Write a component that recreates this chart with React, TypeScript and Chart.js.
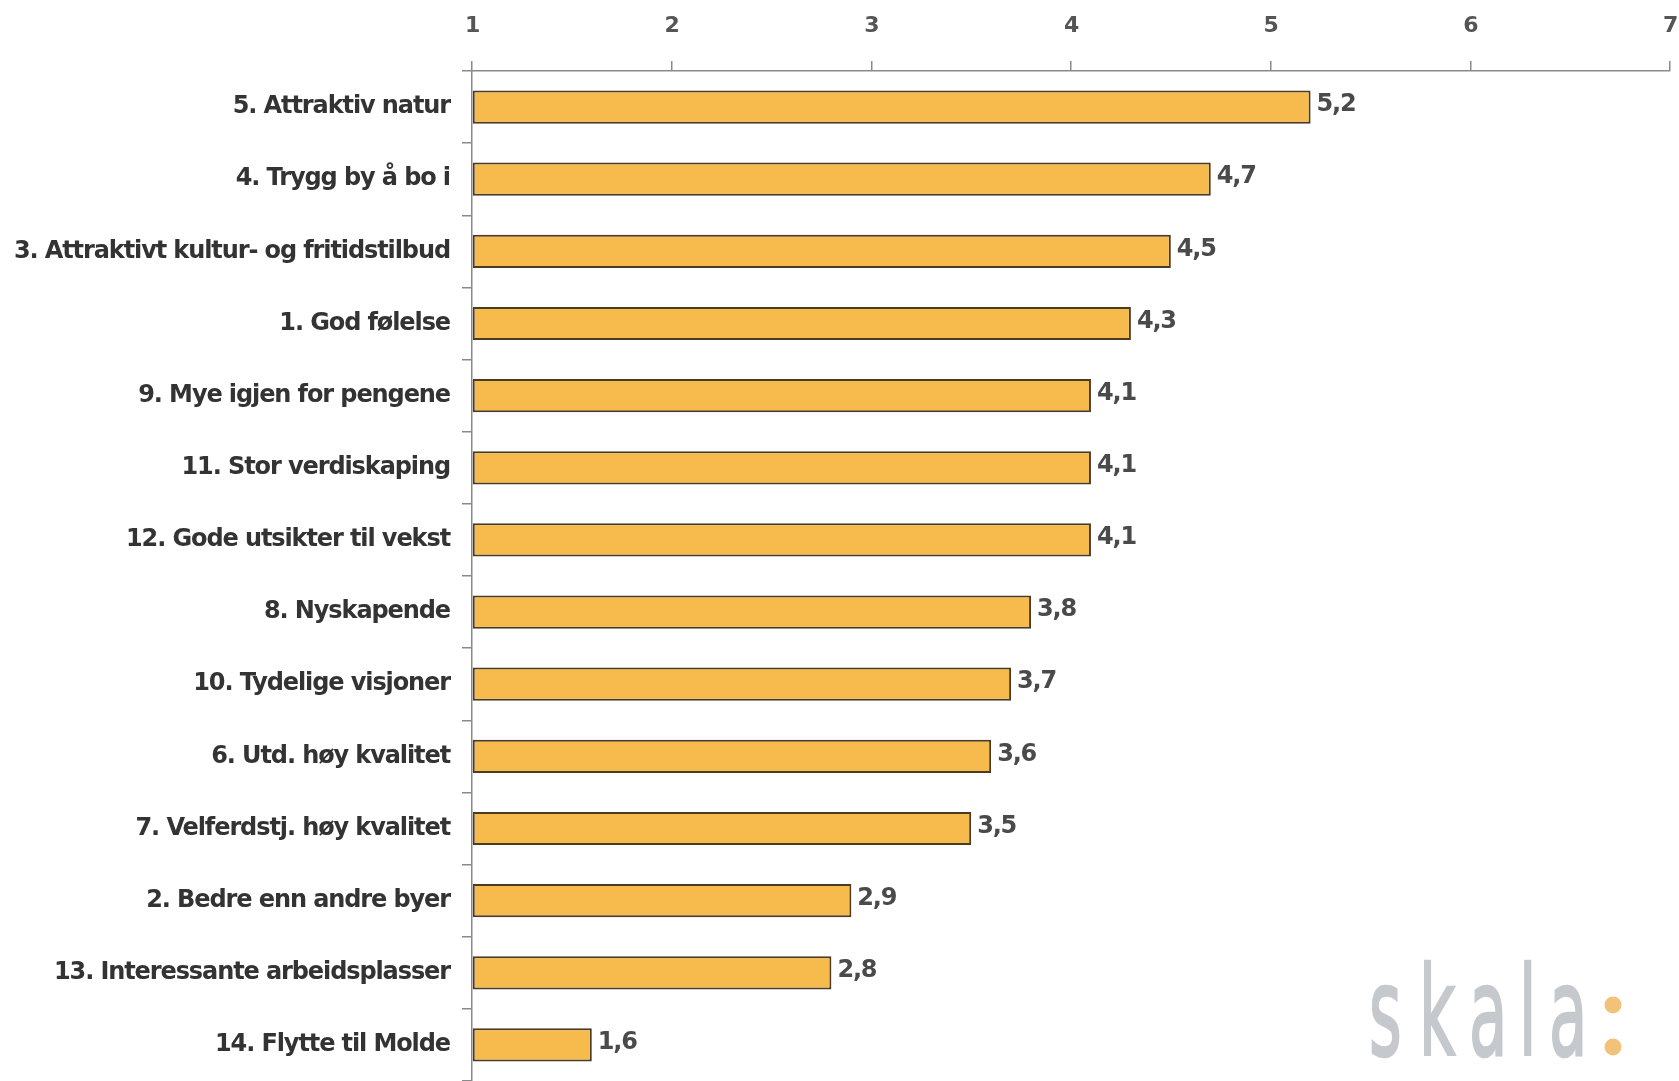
import React, { useEffect, useRef } from "react";
import { Chart, registerables } from "chart.js";

Chart.register(...registerables);

const categories = [
  "5. Attraktiv natur",
  "4. Trygg by å bo i",
  "3. Attraktivt kultur- og fritidstilbud",
  "1. God følelse",
  "9. Mye igjen for pengene",
  "11. Stor verdiskaping",
  "12. Gode utsikter til vekst",
  "8. Nyskapende",
  "10. Tydelige visjoner",
  "6. Utd. høy kvalitet",
  "7. Velferdstj. høy kvalitet",
  "2. Bedre enn andre byer",
  "13. Interessante arbeidsplasser",
  "14. Flytte til Molde",
];
const values = [5.2, 4.7, 4.5, 4.3, 4.1, 4.1, 4.1, 3.8, 3.7, 3.6, 3.5, 2.9, 2.8, 1.6];
const axisMin = 1;
const axisMax = 7;
const logoText = "skala";

const W = 1679;
const H = 1081;
const FONT = '"DejaVu Sans", "Liberation Sans", Arial, sans-serif';

const spacingPlugin = {
  id: "spacing",
  beforeDraw(chart: any) {
    (chart.ctx as any).letterSpacing = "-1.1px";
  },
};

const valueLabelPlugin = {
  id: "valueLabels",
  afterDatasetsDraw(chart: any) {
    const ctx = chart.ctx;
    const meta = chart.getDatasetMeta(0);
    ctx.save();
    (ctx as any).letterSpacing = "-1.2px";
    ctx.font = `bold 24px ${FONT}`;
    ctx.fillStyle = "#4a4a4a";
    ctx.textAlign = "left";
    ctx.textBaseline = "middle";
    meta.data.forEach((bar: any, i: number) => {
      const txt = values[i].toFixed(1).replace(".", ",");
      ctx.fillText(txt, bar.x + 6, bar.y - 2);
    });
    ctx.restore();
  },
};

const logoOffsets = [0, 50, 100, 150, 180];

const logoPlugin = {
  id: "logo",
  afterDraw(chart: any) {
    const ctx = chart.ctx;
    ctx.save();
    (ctx as any).letterSpacing = "0px";
    ctx.fillStyle = "#c5c9cd";
    ctx.strokeStyle = "#c5c9cd";
    ctx.lineWidth = 2.5;
    ctx.textBaseline = "alphabetic";
    ctx.textAlign = "left";
    const baseX = 1369;
    const baseY = 1055;
    for (let i = 0; i < logoText.length; i++) {
      ctx.save();
      ctx.translate(baseX + logoOffsets[i], baseY);
      ctx.scale(0.56, 1.1);
      ctx.font = `normal 112px ${FONT}`;
      ctx.fillText(logoText[i], 0, 0);
      ctx.strokeText(logoText[i], 0, 0);
      ctx.restore();
    }
    ctx.fillStyle = "#f3c27a";
    const cx = 1613;
    ctx.beginPath();
    ctx.arc(cx, 1005, 8.5, 0, Math.PI * 2);
    ctx.fill();
    ctx.beginPath();
    ctx.arc(cx, 1047, 8.5, 0, Math.PI * 2);
    ctx.fill();
    ctx.restore();
  },
};

export default function App() {
  const ref = useRef<HTMLCanvasElement>(null);
  useEffect(() => {
    if (!ref.current) return;
    const chart = new Chart(ref.current, {
      type: "bar",
      data: {
        labels: categories,
        datasets: [
          {
            data: values,
            base: axisMin,
            backgroundColor: "#f7bb4d",
            borderColor: "#4a3b24",
            borderWidth: 2,
            borderSkipped: false,
            barPercentage: 0.46,
            categoryPercentage: 1,
          } as any,
        ],
      },
      options: {
        indexAxis: "y",
        animation: false,
        responsive: false,
        devicePixelRatio: 1,
        layout: { padding: { left: 0, right: 9, top: 0, bottom: 0 } },
        plugins: {
          legend: { display: false },
          tooltip: { enabled: false },
        },
        scales: {
          x: {
            position: "top",
            min: axisMin,
            max: axisMax,
            afterFit(scale: any) {
              scale.height = 71;
              scale.paddingLeft = 0;
              scale.paddingRight = 0;
            },
            ticks: {
              stepSize: 1,
              padding: 22,
              color: "#555",
              font: { family: FONT, size: 22, weight: "bold" },
            },
            grid: {
              drawOnChartArea: false,
              drawTicks: true,
              tickLength: 10,
              color: "#8a8a8a",
              lineWidth: 1.5,
            },
            border: { display: true, color: "#8a8a8a", width: 1.5 },
          },
          y: {
            afterFit(scale: any) {
              scale.width = 472;
              scale.paddingTop = 0;
              scale.paddingBottom = 0;
            },
            ticks: {
              padding: 12,
              color: "#333",
              font: { family: FONT, size: 24, weight: "bold" },
            },
            grid: {
              drawOnChartArea: false,
              drawTicks: true,
              tickLength: 10,
              color: "#8a8a8a",
              lineWidth: 1.5,
            },
            border: { display: true, color: "#8a8a8a", width: 1.5 },
          },
        },
      } as any,
      plugins: [spacingPlugin, valueLabelPlugin, logoPlugin],
    });
    return () => chart.destroy();
  }, []);
  return (
    <div
      style={{
        position: "fixed",
        left: 0,
        top: 0,
        width: W,
        height: H,
        background: "#fff",
        overflow: "hidden",
      }}
    >
      <canvas ref={ref} width={W} height={H} style={{ display: "block" }} />
    </div>
  );
}
